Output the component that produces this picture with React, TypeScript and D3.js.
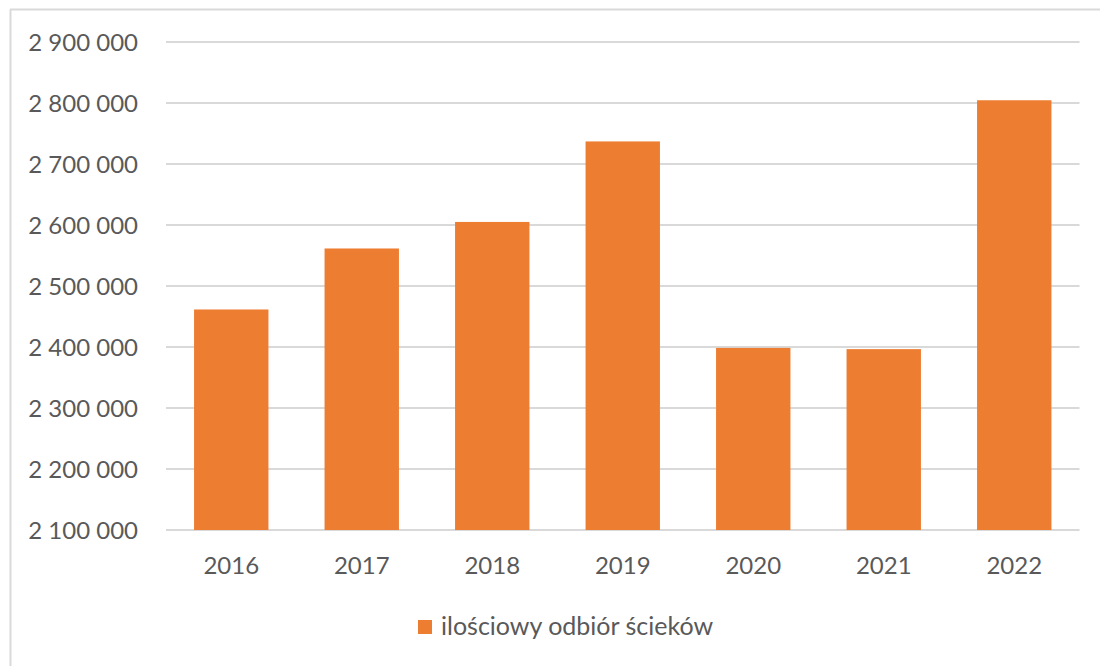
import React from 'react';
import * as d3 from 'd3';

const years = ['2016', '2017', '2018', '2019', '2020', '2021', '2022'];
const values = [2461500, 2561500, 2605000, 2737000, 2398500, 2396500, 2804500];
const yTicks = [2100000, 2200000, 2300000, 2400000, 2500000, 2600000, 2700000, 2800000, 2900000];
const seriesName = 'ilościowy odbiór ścieków';

const W = 1100;
const H = 666;
const margin = { top: 42, right: 20.5, bottom: 136, left: 166 };

const fmt = (v: number) => d3.format(',')(v).replace(/,/g, ' ');

const App: React.FC = () => {
  const x = d3.scaleBand()
    .domain(years)
    .range([margin.left, W - margin.right])
    .paddingInner(0.43)
    .paddingOuter(0.215);

  const y = d3.scaleLinear()
    .domain([2100000, 2900000])
    .range([H - margin.bottom, margin.top]);

  const font = 'Lato, "Open Sans", sans-serif';
  const textColor = '#595959';

  return (
    <div style={{ position: 'fixed', left: 0, top: 0, background: '#fff' }}>
      <svg width={W} height={H} style={{ display: 'block' }}>
        <rect x={0} y={0} width={W} height={H} fill="#fff" />
        <line x1={10} x2={W} y1={9.5} y2={9.5} stroke="#d9d9d9" strokeWidth={2} />
        <line x1={10.5} x2={10.5} y1={9.5} y2={H} stroke="#d9d9d9" strokeWidth={2} />

        {yTicks.map(t => (
          <g key={t}>
            <line x1={margin.left} x2={W - margin.right} y1={y(t)} y2={y(t)}
              stroke="#d9d9d9" strokeWidth={2} />
            <text x={138} y={y(t)} dy="0.36em" textAnchor="end"
              fontFamily={font} fontSize={24} fill={textColor}>{fmt(t)}</text>
          </g>
        ))}

        {years.map((yr, i) => (
          <rect key={yr} x={x(yr)} y={y(values[i])} width={x.bandwidth()}
            height={y(2100000) - y(values[i])} fill="#ed7d31" />
        ))}

        {years.map(yr => (
          <text key={yr} x={(x(yr) ?? 0) + x.bandwidth() / 2} y={574}
            textAnchor="middle" fontFamily={font} fontSize={24} fill={textColor}>{yr}</text>
        ))}

        <rect x={418} y={620} width={14} height={14} fill="#ed7d31" />
        <text x={441} y={635} fontFamily={font} fontSize={25} fill={textColor}>{seriesName}</text>
      </svg>
    </div>
  );
};

export default App;
